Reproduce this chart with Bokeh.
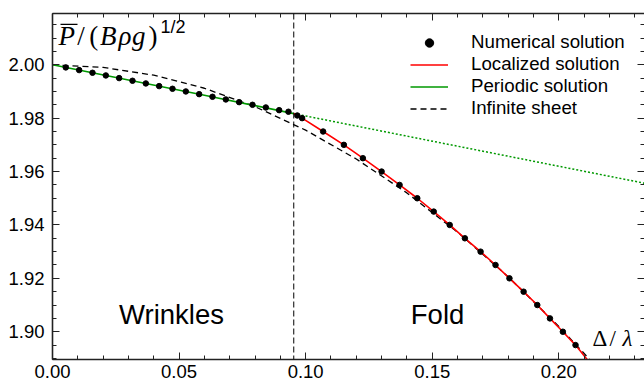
from bokeh.plotting import figure
from bokeh.models import FixedTicker, LinearAxis, Range1d, Legend, LegendItem, Span, PrintfTickFormatter
from bokeh.core.properties import value
from bokeh.embed import file_html
from bokeh.resources import INLINE

# ---- data ----
num_x = [0.00525, 0.01053, 0.0158, 0.02107, 0.02633, 0.0316, 0.03687, 0.04213, 0.0474,
         0.05267, 0.05793, 0.0632, 0.06847, 0.07373, 0.079, 0.08427, 0.08953, 0.0932,
         0.0967, 0.0986, 0.1069, 0.1151, 0.1226, 0.1300, 0.1371, 0.1441, 0.1506, 0.1569,
         0.1629, 0.1691, 0.1750, 0.1805, 0.1861, 0.1915, 0.1965, 0.2016, 0.2066]
num_y = [1.999, 1.998, 1.997, 1.996, 1.995, 1.994, 1.993, 1.992, 1.991,
         1.990, 1.989, 1.988, 1.987, 1.986, 1.985, 1.984, 1.983, 1.9824,
         1.981, 1.980, 1.975, 1.970, 1.965, 1.960, 1.955, 1.950, 1.945, 1.940,
         1.935, 1.930, 1.925, 1.920, 1.915, 1.910, 1.905, 1.900, 1.895]

loc_x = [0.0953, 0.0967, 0.0986, 0.1069, 0.1151, 0.1226, 0.1300, 0.1371, 0.1441, 0.1506,
         0.1569, 0.1629, 0.1691, 0.1750, 0.1805, 0.1861, 0.1915, 0.1965, 0.2016, 0.2066, 0.2117]
loc_y = [1.9817, 1.981, 1.980, 1.975, 1.970, 1.965, 1.960, 1.955, 1.950, 1.945,
         1.940, 1.935, 1.930, 1.925, 1.920, 1.915, 1.910, 1.905, 1.900, 1.895, 1.889]

per_x = [0.0, 0.03, 0.06, 0.0953]
per_y = [2.0000, 1.9943, 1.9886, 1.9817]
per_ext_x = [0.0953, 0.16, 0.234]
per_ext_y = [1.9817, 1.9695, 1.9556]

inf_x = [0.0, 0.02, 0.04, 0.06, 0.08, 0.10, 0.12, 0.14, 0.16, 0.18, 0.20, 0.215]
inf_y = [2.0000, 1.9990, 1.9961, 1.9912, 1.9843, 1.9755, 1.9647, 1.9520, 1.9373, 1.9206, 1.9020, 1.8868]

transition_x = 0.0953

x_ticks = [0.00, 0.05, 0.10, 0.15, 0.20]
x_minor = [i * 0.01 for i in range(0, 24)]
y_ticks = [1.90, 1.92, 1.94, 1.96, 1.98, 2.00]
y_minor = [1.89 + i * 0.005 for i in range(0, 27)]

SANS = "Liberation Sans"
SERIF = "Liberation Serif"

p = figure(width=644, height=384,
           x_range=Range1d(0, 0.23385), y_range=Range1d(1.8896, 2.0192),
           output_backend="svg", toolbar_location=None,
           min_border_left=52, min_border_right=0, min_border_top=13, min_border_bottom=25)
p.outline_line_color = None
p.xgrid.visible = False
p.ygrid.visible = False
p.background_fill_color = "white"


def style(ax, ticks, minor, labels):
    ax.ticker = FixedTicker(ticks=ticks, minor_ticks=minor)
    ax.axis_line_width = 1.6
    ax.axis_line_color = "#222222"
    ax.major_tick_in = 7
    ax.major_tick_out = 0
    ax.minor_tick_in = 4
    ax.minor_tick_out = 0
    ax.major_tick_line_color = "#222222"
    ax.minor_tick_line_color = "#222222"
    ax.major_tick_line_width = 1
    ax.minor_tick_line_width = 1
    if labels:
        ax.formatter = PrintfTickFormatter(format="%.2f")
        ax.major_label_text_font = SANS
        ax.major_label_text_font_size = "18.5px"
        ax.major_label_text_color = "black"
    else:
        ax.major_label_overrides = {t: "" for t in ticks}
        ax.major_label_text_color = None
        ax.major_label_text_font_size = "1px"
        ax.major_label_standoff = 0


xb = p.xaxis[0]
yl = p.yaxis[0]
style(xb, x_ticks, x_minor, True)
xb.major_label_standoff = 5
style(yl, y_ticks, y_minor, True)
yl.major_label_standoff = 8

xt = LinearAxis()
style(xt, x_ticks, x_minor, False)
p.add_layout(xt, "above")
yr = LinearAxis()
style(yr, y_ticks, y_minor, False)
yr.axis_line_color = None
p.add_layout(yr, "right")

# curves
r_inf = p.line(inf_x, inf_y, line_color="black", line_width=1.3, line_dash="6 4")
r_ext = p.line(per_ext_x, per_ext_y, line_color="#009900", line_width=1.5, line_dash="2 2")
r_per = p.line(per_x, per_y, line_color="#009900", line_width=1.6)
r_loc = p.line(loc_x, loc_y, line_color="#ff0000", line_width=1.6)
r_num = p.scatter(num_x, num_y, size=5.5, fill_color="black", line_color="black")

p.add_layout(Span(location=transition_x, dimension="height", line_color="black",
                  line_width=1, line_dash="6 3"))

# regime labels
p.text(x=[0.0470, 0.1521], y=[1.9066, 1.9066], text=["Wrinkles", "Fold"],
       text_font=value(SANS), text_font_size="27.5px", text_align="center",
       text_baseline="alphabetic", text_color="black")

# y label pieces
p.text(x=[0.00237, 0.01876, 0.02607, 0.03140], y=[2.0109] * 4,
       text=["P", "B", "ρ", "g"], text_font=value(SERIF), text_font_style="italic",
       text_font_size="27px", text_baseline="alphabetic", text_color="black")
p.text(x=[0.0098, 0.0145, 0.03792], y=[2.0109] * 3,
       text=["/", "(", ")"], text_font=value(SERIF),
       text_font_size="27px", text_baseline="alphabetic", text_color="black")
p.text(x=[0.04266], y=[2.0140], text=["1/2"], text_font=value(SANS),
       text_font_size="18px", text_baseline="alphabetic", text_color="black")
p.segment(x0=[0.00316], y0=[2.01509], x1=[0.00988], y1=[2.01509],
          line_color="black", line_width=1.3)

# x label pieces (clipped at right edge)
p.text(x=[0.21331, 0.2200], y=[1.8975, 1.8975], text=["Δ", "/"],
       text_font=value(SERIF), text_font_size="23px", text_baseline="alphabetic",
       text_color="black")
p.text(x=[0.2252], y=[1.8975], text=["λ"], text_font=value(SERIF),
       text_font_style="italic", text_font_size="23px", text_baseline="alphabetic",
       text_color="black")

legend = Legend(items=[
    LegendItem(label="Numerical solution", renderers=[r_num]),
    LegendItem(label="Localized solution", renderers=[r_loc]),
    LegendItem(label="Periodic solution", renderers=[r_per]),
    LegendItem(label="Infinite sheet", renderers=[r_inf]),
], location=(358, 240), border_line_color=None, background_fill_alpha=0,
    padding=0, margin=0, spacing=0, glyph_width=38, glyph_height=21,
    label_height=21, label_standoff=23, label_text_font=SANS,
    label_text_font_size="18.7px", label_text_color="black")
p.add_layout(legend)

open("out.html", "w").write(file_html(p, INLINE))
